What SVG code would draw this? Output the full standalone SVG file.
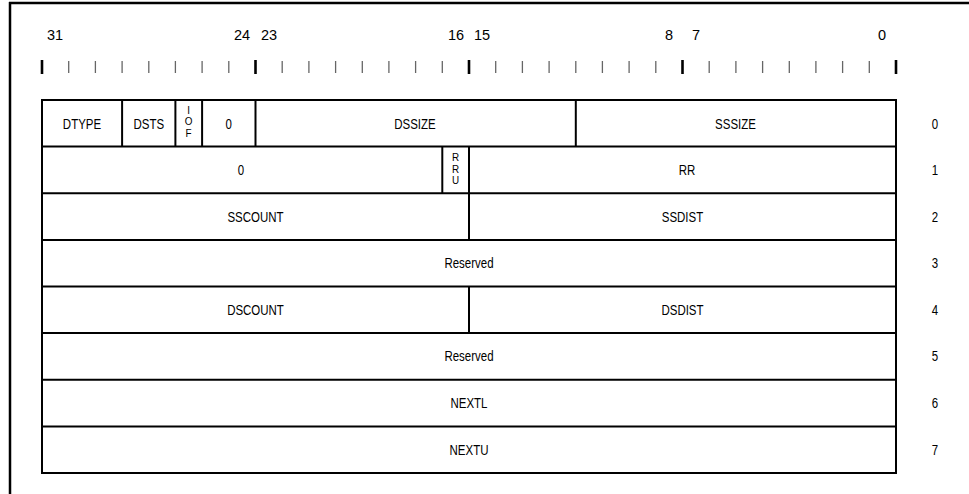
<svg xmlns="http://www.w3.org/2000/svg" width="969" height="494" viewBox="0 0 969 494">
<style>
.frame{stroke:#000;stroke-width:2.5;fill:none}
.tk{stroke:#666;stroke-width:1.3}
.tkb{stroke:#000;stroke-width:2.6}
.ln{stroke:#000;stroke-width:2;fill:none}
.bit{font-family:"Liberation Sans",Arial,sans-serif;font-size:14.5px;fill:#000;text-anchor:middle}
.c{font-family:"Liberation Sans",Arial,sans-serif;font-size:14px;fill:#000;text-anchor:middle}
.v{font-family:"Liberation Sans",Arial,sans-serif;font-size:11px;fill:#000;text-anchor:middle}
</style>
<rect width="969" height="494" fill="#fff"/>
<g id="frame">
<line class="frame" x1="9" y1="3" x2="969" y2="3"/>
<line class="frame" x1="10" y1="2" x2="10" y2="494"/>
</g>
<g id="bit-labels">
<text class="bit" x="55" y="40">31</text>
<text class="bit" x="242" y="40">24</text>
<text class="bit" x="269" y="40">23</text>
<text class="bit" x="456" y="40">16</text>
<text class="bit" x="482" y="40">15</text>
<text class="bit" x="669" y="40">8</text>
<text class="bit" x="696" y="40">7</text>
<text class="bit" x="882" y="40">0</text>
</g>
<g id="ticks">
<line class="tkb" x1="42" y1="60" x2="42" y2="74"/>
<line class="tk" x1="68.7" y1="61" x2="68.7" y2="73"/>
<line class="tk" x1="95.4" y1="61" x2="95.4" y2="73"/>
<line class="tk" x1="122.1" y1="61" x2="122.1" y2="73"/>
<line class="tk" x1="148.8" y1="61" x2="148.8" y2="73"/>
<line class="tk" x1="175.4" y1="61" x2="175.4" y2="73"/>
<line class="tk" x1="202.1" y1="61" x2="202.1" y2="73"/>
<line class="tk" x1="228.8" y1="61" x2="228.8" y2="73"/>
<line class="tkb" x1="255.5" y1="60" x2="255.5" y2="74"/>
<line class="tk" x1="282.2" y1="61" x2="282.2" y2="73"/>
<line class="tk" x1="308.9" y1="61" x2="308.9" y2="73"/>
<line class="tk" x1="335.6" y1="61" x2="335.6" y2="73"/>
<line class="tk" x1="362.3" y1="61" x2="362.3" y2="73"/>
<line class="tk" x1="388.9" y1="61" x2="388.9" y2="73"/>
<line class="tk" x1="415.6" y1="61" x2="415.6" y2="73"/>
<line class="tk" x1="442.3" y1="61" x2="442.3" y2="73"/>
<line class="tkb" x1="469" y1="60" x2="469" y2="74"/>
<line class="tk" x1="495.7" y1="61" x2="495.7" y2="73"/>
<line class="tk" x1="522.4" y1="61" x2="522.4" y2="73"/>
<line class="tk" x1="549.1" y1="61" x2="549.1" y2="73"/>
<line class="tk" x1="575.8" y1="61" x2="575.8" y2="73"/>
<line class="tk" x1="602.4" y1="61" x2="602.4" y2="73"/>
<line class="tk" x1="629.1" y1="61" x2="629.1" y2="73"/>
<line class="tk" x1="655.8" y1="61" x2="655.8" y2="73"/>
<line class="tkb" x1="682.5" y1="60" x2="682.5" y2="74"/>
<line class="tk" x1="709.2" y1="61" x2="709.2" y2="73"/>
<line class="tk" x1="735.9" y1="61" x2="735.9" y2="73"/>
<line class="tk" x1="762.6" y1="61" x2="762.6" y2="73"/>
<line class="tk" x1="789.3" y1="61" x2="789.3" y2="73"/>
<line class="tk" x1="815.9" y1="61" x2="815.9" y2="73"/>
<line class="tk" x1="842.6" y1="61" x2="842.6" y2="73"/>
<line class="tk" x1="869.3" y1="61" x2="869.3" y2="73"/>
<line class="tkb" x1="896" y1="60" x2="896" y2="74"/>
</g>
<g id="table">
<rect class="ln" x="42" y="100" width="854" height="373"/>
<line class="ln" x1="42" y1="146.6" x2="896" y2="146.6"/>
<line class="ln" x1="42" y1="193.2" x2="896" y2="193.2"/>
<line class="ln" x1="42" y1="239.9" x2="896" y2="239.9"/>
<line class="ln" x1="42" y1="286.5" x2="896" y2="286.5"/>
<line class="ln" x1="42" y1="333.1" x2="896" y2="333.1"/>
<line class="ln" x1="42" y1="379.7" x2="896" y2="379.7"/>
<line class="ln" x1="42" y1="426.4" x2="896" y2="426.4"/>
<line class="ln" x1="122.1" y1="100" x2="122.1" y2="146.6"/>
<line class="ln" x1="175.4" y1="100" x2="175.4" y2="146.6"/>
<line class="ln" x1="202.1" y1="100" x2="202.1" y2="146.6"/>
<line class="ln" x1="255.5" y1="100" x2="255.5" y2="146.6"/>
<line class="ln" x1="575.8" y1="100" x2="575.8" y2="146.6"/>
<line class="ln" x1="442.3" y1="146.6" x2="442.3" y2="193.2"/>
<line class="ln" x1="469" y1="146.6" x2="469" y2="239.9"/>
<line class="ln" x1="469" y1="286.5" x2="469" y2="333.1"/>
</g>
<g id="row0">
<text class="c" transform="translate(82,128.5) scale(0.82,1)">DTYPE</text>
<text class="c" transform="translate(148.8,128.5) scale(0.82,1)">DSTS</text>
<text class="v" transform="translate(188.5,113.5) scale(0.9,1)">I</text>
<text class="v" transform="translate(188.5,125) scale(0.9,1)">O</text>
<text class="v" transform="translate(188.5,136.5) scale(0.9,1)">F</text>
<text class="c" transform="translate(228.8,128.5) scale(0.82,1)">0</text>
<text class="c" transform="translate(415,128.5) scale(0.82,1)">DSSIZE</text>
<text class="c" transform="translate(735.5,128.5) scale(0.82,1)">SSSIZE</text>
</g>
<g id="row1">
<text class="c" transform="translate(241,175) scale(0.82,1)">0</text>
<text class="v" transform="translate(455.7,161) scale(0.9,1)">R</text>
<text class="v" transform="translate(455.7,172.5) scale(0.9,1)">R</text>
<text class="v" transform="translate(455.7,184) scale(0.9,1)">U</text>
<text class="c" transform="translate(687,175) scale(0.82,1)">RR</text>
</g>
<g id="row2">
<text class="c" transform="translate(255.5,221.5) scale(0.82,1)">SSCOUNT</text>
<text class="c" transform="translate(682.5,221.5) scale(0.82,1)">SSDIST</text>
</g>
<g id="row3">
<text class="c" transform="translate(469,268) scale(0.82,1)">Reserved</text>
</g>
<g id="row4">
<text class="c" transform="translate(255.5,314.8) scale(0.82,1)">DSCOUNT</text>
<text class="c" transform="translate(682.5,314.8) scale(0.82,1)">DSDIST</text>
</g>
<g id="row5">
<text class="c" transform="translate(469,361.4) scale(0.82,1)">Reserved</text>
</g>
<g id="row6">
<text class="c" transform="translate(469,408) scale(0.82,1)">NEXTL</text>
</g>
<g id="row7">
<text class="c" transform="translate(469,454.7) scale(0.82,1)">NEXTU</text>
</g>
<g id="row-numbers">
<text class="c" transform="translate(935,128.5) scale(0.82,1)">0</text>
<text class="c" transform="translate(935,175) scale(0.82,1)">1</text>
<text class="c" transform="translate(935,221.5) scale(0.82,1)">2</text>
<text class="c" transform="translate(935,268) scale(0.82,1)">3</text>
<text class="c" transform="translate(935,314.8) scale(0.82,1)">4</text>
<text class="c" transform="translate(935,361.4) scale(0.82,1)">5</text>
<text class="c" transform="translate(935,408) scale(0.82,1)">6</text>
<text class="c" transform="translate(935,454.7) scale(0.82,1)">7</text>
</g>
</svg>
